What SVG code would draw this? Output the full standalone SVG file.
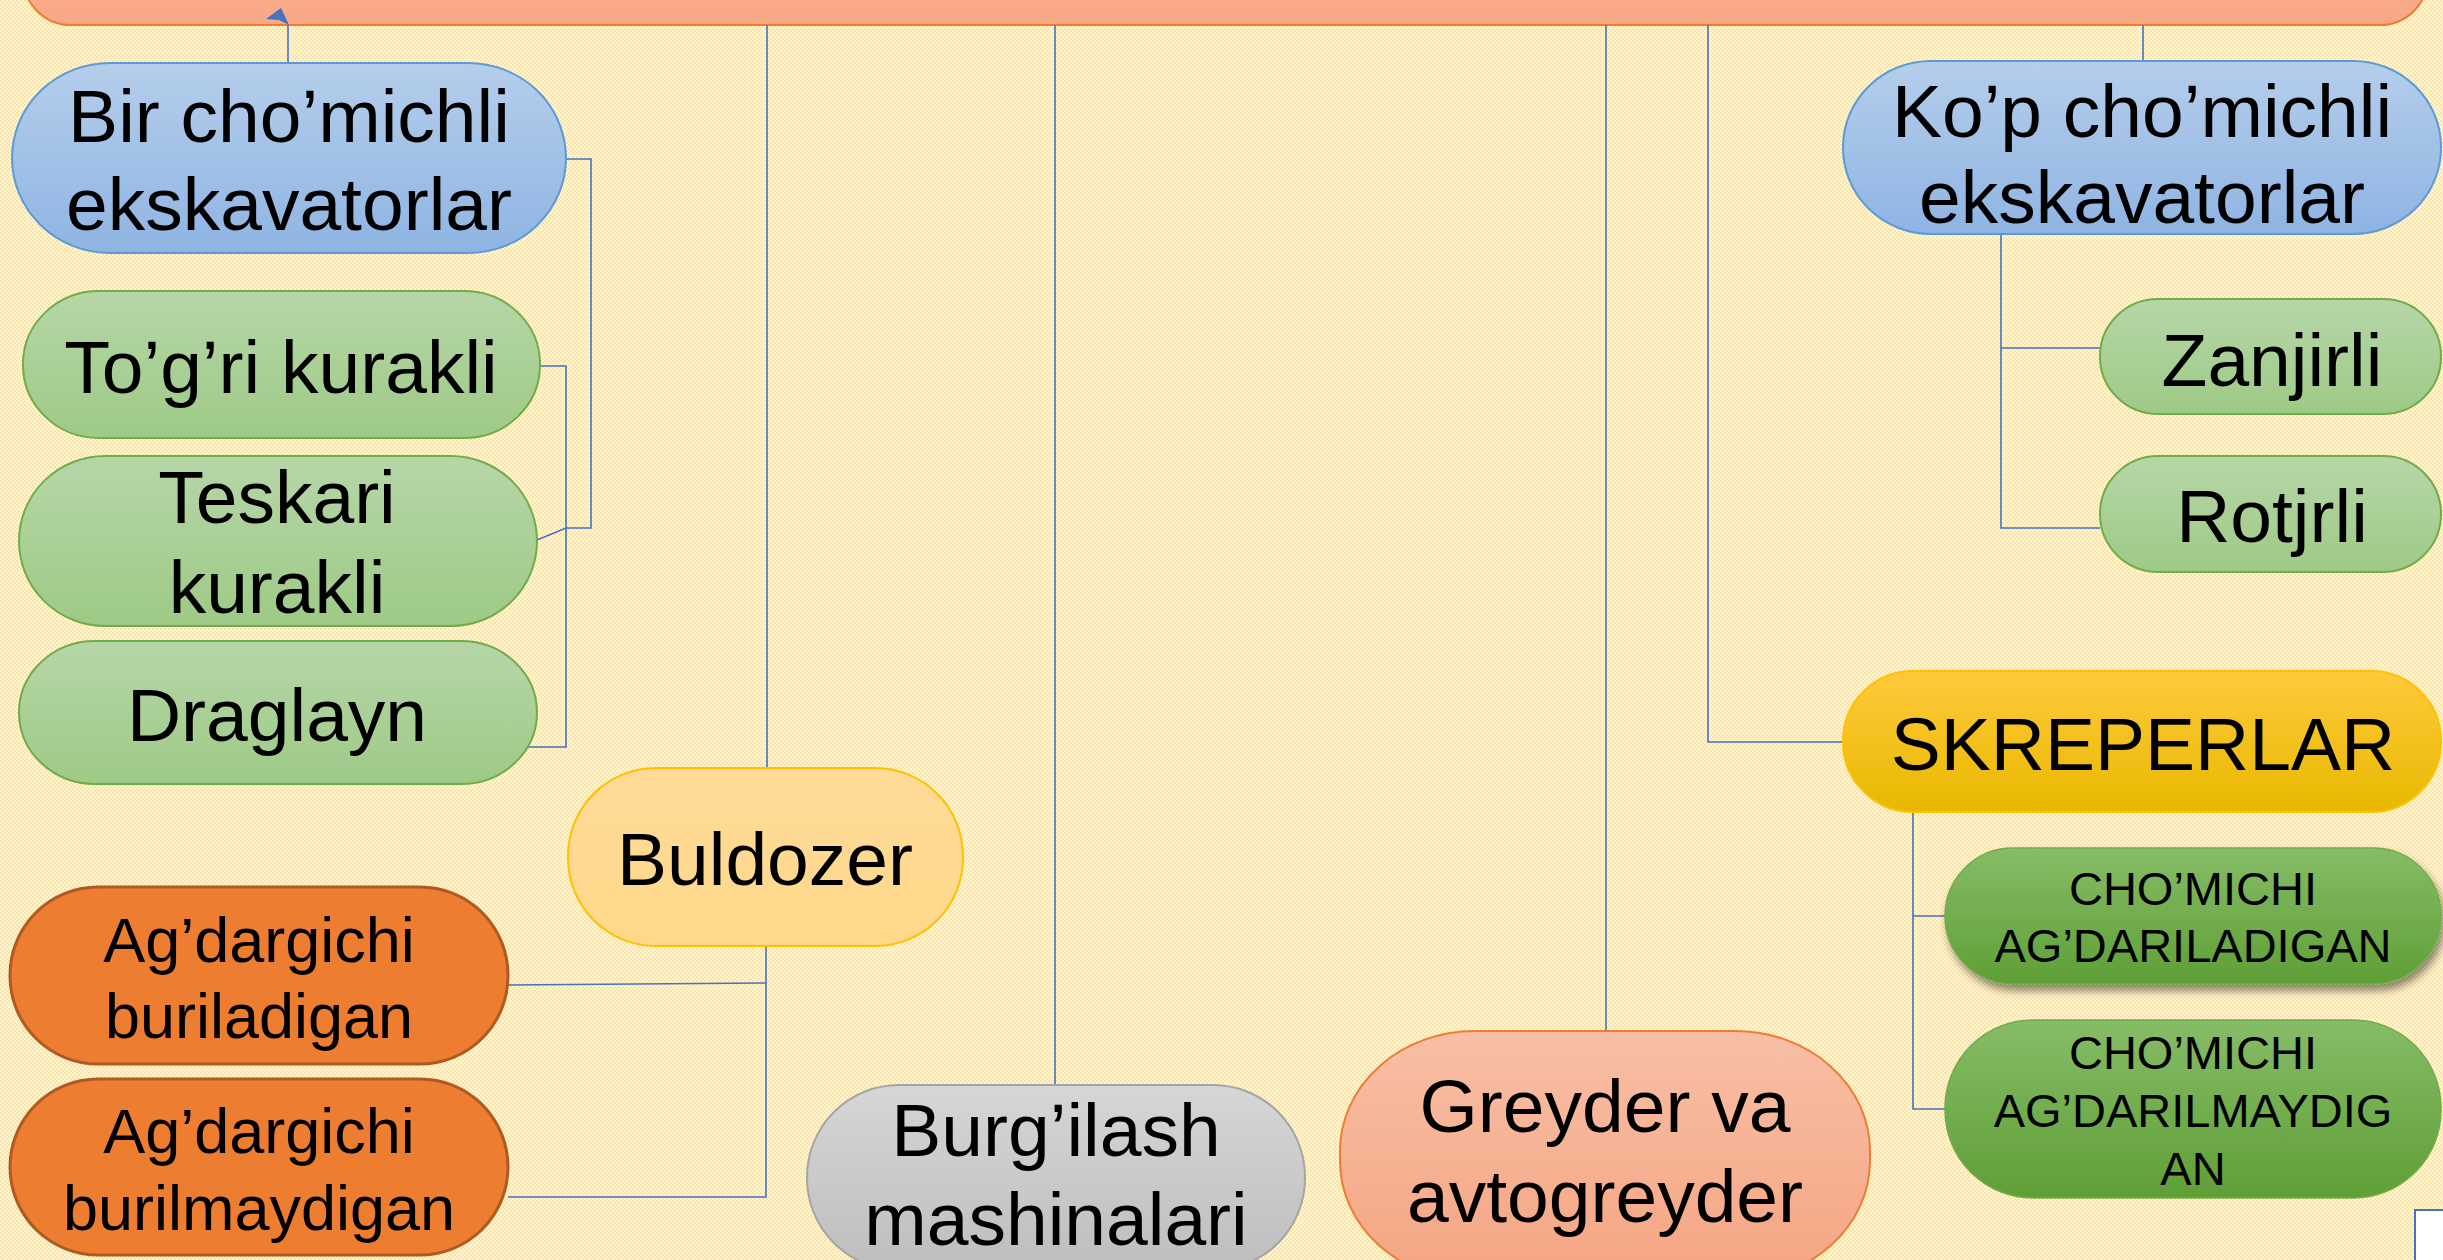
<svg xmlns="http://www.w3.org/2000/svg" width="2443" height="1260" viewBox="0 0 2443 1260">
<style>
.t{font-family:"Liberation Sans",Arial,sans-serif;fill:#000;text-anchor:middle}
.big{font-size:75px}
.mid{font-size:63px}
.sm{font-size:47px}
.c{fill:none;stroke:#4472C4;stroke-width:1.6}
</style>
<defs>
<pattern id="bg" width="4" height="4" patternUnits="userSpaceOnUse">
<rect width="4" height="4" fill="#FFF7DC"/>
<rect width="2" height="2" fill="#FCE3A2"/>
<rect x="2" y="2" width="2" height="2" fill="#FCE3A2"/>
</pattern>
<linearGradient id="gBlue" x1="0" y1="0" x2="0" y2="1"><stop offset="0" stop-color="#B5CEEB"/><stop offset="1" stop-color="#8FB4E3"/></linearGradient>
<linearGradient id="gGreen" x1="0" y1="0" x2="0" y2="1"><stop offset="0" stop-color="#B6D6A8"/><stop offset="1" stop-color="#9ECA86"/></linearGradient>
<linearGradient id="gDGreen" x1="0" y1="0" x2="0" y2="1"><stop offset="0" stop-color="#86BC67"/><stop offset="1" stop-color="#5F9F36"/></linearGradient>
<linearGradient id="gGold" x1="0" y1="0" x2="0" y2="1"><stop offset="0" stop-color="#FFCA3C"/><stop offset="1" stop-color="#E8B800"/></linearGradient>
<linearGradient id="gBul" x1="0" y1="0" x2="0" y2="1"><stop offset="0" stop-color="#FFDB98"/><stop offset="1" stop-color="#FFD88A"/></linearGradient>
<linearGradient id="gGrey" x1="0" y1="0" x2="0" y2="1"><stop offset="0" stop-color="#D6D6D6"/><stop offset="1" stop-color="#BEBEBE"/></linearGradient>
<linearGradient id="gSal" x1="0" y1="0" x2="0" y2="1"><stop offset="0" stop-color="#F8BFA6"/><stop offset="1" stop-color="#F5A582"/></linearGradient>
<linearGradient id="gTop" x1="0" y1="0" x2="0" y2="1"><stop offset="0" stop-color="#F9AE8D"/><stop offset="1" stop-color="#F8A886"/></linearGradient>
<filter id="sh" x="-10%" y="-20%" width="120%" height="150%">
<feDropShadow dx="3" dy="6" stdDeviation="4" flood-color="#000" flood-opacity="0.45"/>
</filter>
</defs>
<rect width="2443" height="1260" fill="url(#bg)"/>

<g id="top-bar">
<rect x="23" y="-90" width="2405" height="115" rx="48" fill="url(#gTop)" stroke="#ED7D31" stroke-width="2"/>
</g>

<g id="connectors">
<path class="c" d="M288,63 V25"/>
<polygon points="281,8 289,25 279,20 266,19" fill="#4472C4"/>
<path class="c" d="M566,159 H591 V528 H566 L537,540"/>
<path class="c" d="M540,366 H566 V747 H508"/>
<path class="c" d="M767,25 V768"/>
<path class="c" d="M766,946 V1197 H508"/>
<path class="c" d="M508,985 L766,983"/>
<path class="c" d="M1055,25 V1085"/>
<path class="c" d="M1606,25 V1031"/>
<path class="c" d="M1708,25 V742 H1843"/>
<path class="c" d="M2143,25 V62"/>
<path class="c" d="M2001,234 V528 H2100 M2001,348 H2100"/>
<path class="c" d="M1913,812 V1109 H1945 M1913,916 H1945"/>
</g>

<g id="bir">
<rect x="12" y="63" width="554" height="190" rx="98" ry="95" fill="url(#gBlue)" stroke="#5B9BD5" stroke-width="2"/>
<text class="t big" x="289" y="142">Bir cho’michli</text>
<text class="t big" x="289" y="230">ekskavatorlar</text>
</g>

<g id="togri">
<rect x="23" y="291" width="517" height="147" rx="76" ry="73" fill="url(#gGreen)" stroke="#70AD47" stroke-width="2"/>
<text class="t big" x="281" y="393">To’g’ri kurakli</text>
</g>

<g id="teskari">
<rect x="19" y="456" width="518" height="170" rx="86" ry="85" fill="url(#gGreen)" stroke="#70AD47" stroke-width="2"/>
<text class="t big" x="277" y="523">Teskari</text>
<text class="t big" x="277" y="613">kurakli</text>
</g>

<g id="draglayn">
<rect x="19" y="641" width="518" height="143" rx="76" ry="72" fill="url(#gGreen)" stroke="#70AD47" stroke-width="2"/>
<text class="t big" x="277" y="741">Draglayn</text>
</g>

<g id="buldozer">
<rect x="568" y="768" width="395" height="178" rx="88" ry="88" fill="url(#gBul)" stroke="#FFC000" stroke-width="2"/>
<text class="t big" x="765" y="885">Buldozer</text>
</g>

<g id="agd1">
<rect x="10" y="887" width="498" height="177" rx="88" ry="88" fill="#ED7D31" stroke="#AE5A21" stroke-width="3"/>
<text class="t mid" x="259" y="962">Ag’dargichi</text>
<text class="t mid" x="259" y="1038">buriladigan</text>
</g>

<g id="agd2">
<rect x="10" y="1079" width="498" height="176" rx="88" ry="88" fill="#ED7D31" stroke="#AE5A21" stroke-width="3"/>
<text class="t mid" x="259" y="1153">Ag’dargichi</text>
<text class="t mid" x="259" y="1230">burilmaydigan</text>
</g>

<g id="burgilash">
<rect x="807" y="1085" width="498" height="185" rx="92" ry="92" fill="url(#gGrey)" stroke="#A5A5A5" stroke-width="2"/>
<text class="t big" x="1056" y="1156">Burg’ilash</text>
<text class="t big" x="1056" y="1245">mashinalari</text>
</g>

<g id="greyder">
<rect x="1340" y="1031" width="530" height="250" rx="135" ry="120" fill="url(#gSal)" stroke="#ED7D31" stroke-width="2"/>
<text class="t big" x="1605" y="1132">Greyder va</text>
<text class="t big" x="1605" y="1222">avtogreyder</text>
</g>

<g id="kop">
<rect x="1843" y="61" width="598" height="173" rx="88" ry="86" fill="url(#gBlue)" stroke="#5B9BD5" stroke-width="2"/>
<text class="t big" x="2142" y="137">Ko’p cho’michli</text>
<text class="t big" x="2142" y="223">ekskavatorlar</text>
</g>

<g id="zanjirli">
<rect x="2100" y="299" width="341" height="115" rx="58" ry="57" fill="url(#gGreen)" stroke="#70AD47" stroke-width="2"/>
<text class="t big" x="2272" y="386">Zanjirli</text>
</g>

<g id="rotjrli">
<rect x="2100" y="456" width="341" height="116" rx="58" ry="58" fill="url(#gGreen)" stroke="#70AD47" stroke-width="2"/>
<text class="t big" x="2272" y="542">Rotjrli</text>
</g>

<g id="skreperlar">
<rect x="1843" y="671" width="598" height="141" rx="70" ry="70" fill="url(#gGold)" stroke="#FFC000" stroke-width="2"/>
<text class="t big" x="2143" y="770">SKREPERLAR</text>
</g>

<g id="chomichi1">
<rect x="1945" y="848" width="496" height="136" rx="68" ry="68" fill="url(#gDGreen)" stroke="#70AD47" stroke-width="1.5" filter="url(#sh)"/>
<text class="t sm" x="2193" y="905">CHO’MICHI</text>
<text class="t sm" x="2193" y="962">AG’DARILADIGAN</text>
</g>

<g id="chomichi2">
<rect x="1945" y="1020" width="496" height="178" rx="88" ry="88" fill="url(#gDGreen)" stroke="#70AD47" stroke-width="1.5"/>
<text class="t sm" x="2193" y="1069">CHO’MICHI</text>
<text class="t sm" x="2193" y="1127">AG’DARILMAYDIG</text>
<text class="t sm" x="2193" y="1185">AN</text>
</g>

<g id="corner-box">
<rect x="2415" y="1210" width="60" height="80" fill="#FFFFFF" stroke="#4472C4" stroke-width="2"/>
</g>
</svg>
